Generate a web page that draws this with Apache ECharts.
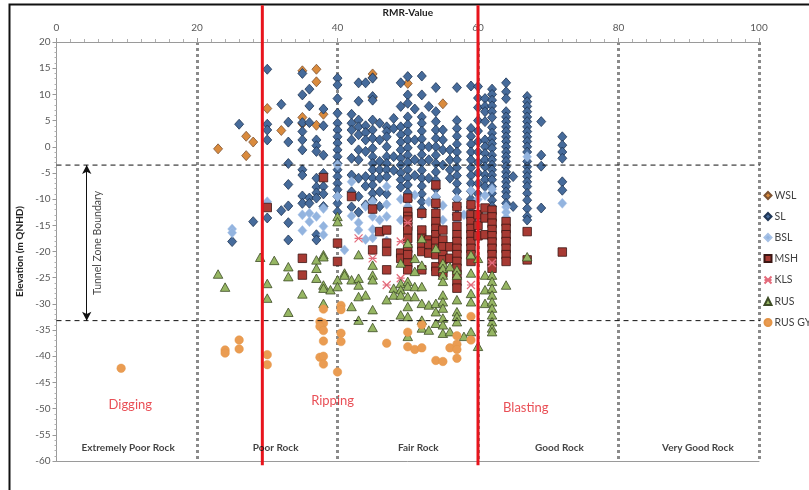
<!DOCTYPE html>
<html>
<head>
<meta charset="utf-8">
<script src="https://cdn.jsdelivr.net/npm/echarts@6/dist/echarts.min.js"></script>
<style>
html, body { margin: 0; padding: 0; background: #fff; }
#chart { width: 809px; height: 490px; }
</style>
</head>
<body>
<div id="chart"></div>
<script>
/*==================== data ====================*/
// points: [RMR, elevation]
var wsl = [[23,-0.4],[27,2.0],[28,0.9],[27,-1.7],[30,7.3],[32,3.1],[35,14.5],[37,14.8],[37,12.4],[35,5.6],[35,4.4],
    [37,4.1],[38,6.2],[45,13.9],[45,13.2],[45,9.4],[50,12.1],[55,8.2]];

// SL grouped by RMR column: [x, [elevations]]
var slCols = [
    [25, [-18.1]], [26, [4.3]], [28, [-14.3]],
    [30, [14.8, 4.3, 3.2, 1.3, -13.6]],
    [32, [8.1, -12.2]],
    [33, [4.7, 0.9, -3.2, -7.2, -11.3, -14.5, -17.8]],
    [35, [14.0, 9.9, 4.6, 2.9, 1.3, -0.6, -4.4, -5.4, -9.4, -10.8]],
    [36, [11.0, 7.8, 4.6, -9.8, -10.8]],
    [37, [1.3, 0.2, -0.9, -6.0, -7.7, -8.8, -9.8, -16.8, -17.8]],
    [38, [7.2, 4.0, -1.6, -5.1, -7.6, -9.0, -11.4]],
    [40, [13.1, 11.8, 9.2, 6.4, 4.5, 3.2, 1.9, 0.7, -0.6, -1.9, -3.2, -4.4, -5.7, -7.0, -8.2, -9.5, -10.8, -12.4]],
    [42, [6.2, 4.5, 3.2, 1.3, -2.2, -5.4, -8.6, -11.5]],
    [43, [12.2, 8.7, 5.1, 3.8, 2.3, -0.6, -2.5, -6.0, -9.5, -12.5]],
    [44, [12.2, 4.0, 2.7, 1.3, -0.9, -5.7, -7.5, -11.1]],
    [45, [13.1, 9.6, 8.9, 5.1, 3.2, 1.6, -0.3, -1.9, -3.2, -4.4, -6.0, -7.3, -8.9, -10.2, -11.4]],
    [46, [4.5, 1.3, -2.8, -4.4, -6.0, -8.6, -11.4]],
    [47, [3.8, 2.9, 1.9, 0.0, -1.9, -3.2, -4.4, -5.7, -9.0]],
    [48, [5.4, 3.5, -1.9, -4.5]],
    [49, [12.2, 7.7, 3.8, 2.3, 0.9, -0.6, -2.2, -3.5, -5.0, -6.3, -7.7]],
    [50, [13.4, 9.9, 8.3, 5.7, 4.2, 2.8, 1.3, -0.2, -1.6, -3.0, -4.4, -5.9, -7.3, -8.8, -10.2]],
    [51, [7.2, 1.3, -2.5, -5.5]],
    [52, [13.5, 9.9, 5.7, 4.5, 3.0, 1.5, 0.0, -1.5, -3.0, -4.5, -6.0, -7.5, -9.0, -10.5, -12.0]],
    [53, [7.7, 0.0, -2.5, -6.0]],
    [54, [11.3, 6.7, 4.8, 3.2, 1.6, 0.0, -1.6, -3.2, -4.8, -6.4, -8.0, -9.6, -11.2]],
    [55, [3.2, 1.3, -0.6, -3.5]],
    [56, [-0.6, -2.5, -4.4, -6.0]],
    [57, [11.3, 5.0, 3.5, 2.0, 0.5, -1.0, -2.5, -4.0, -5.5, -7.0, -8.5, -10.0, -11.5, -13.0]],
    [59, [11.6, 3.5, 2.0, 0.5, -1.0, -2.5, -4.0, -5.5, -7.0, -8.5, -10.0, -11.5]],
    [60, [11.5, 9.3, 7.5, 5.0, 3.0, 1.0, -1.0, -3.0, -5.0, -7.0, -9.0]],
    [61, [9.2, 7.7, 6.7, 4.8, 1.3, 0.0, -1.3, -2.5, -3.8, -5.4, -6.3, -7.6]],
    [62, [11.0, 10.0, 8.9, 7.8, 6.7, 5.6, 3.7, 2.6, 1.6, 0.6, -0.3, -1.6, -2.5, -3.5, -4.4, -5.4, -6.3, -7.6, -8.9, -10.2, -11.4]],
    [64, [12.2, 10.5, 9.2, 6.7, 5.7, 4.8, 3.8, 2.9, 1.9, 1.0, 0.0, -1.0, -1.9, -2.8, -3.8, -4.8, -5.7, -6.7, -7.6, -8.6, -9.5, -10.8]],
    [65, [-5.7, -11.4]],
    [67, [9.6, 8.6, 7.7, 6.7, 5.7, 4.8, 3.8, 2.9, 1.9, 1.0, 0.0, -1.0, -2.8, -3.8, -4.8, -5.7, -6.7, -7.6, -8.9, -10.2, -11.8, -13.3, -14.0]],
    [69, [4.8, -1.6, -3.7, -11.7]],
    [72, [1.9, 0.3, -1.0, -2.2, -6.7, -8.3]]
];

var bsl = [[25,-15.7],[25,-16.4],[30,-10.5],[35,-13.0],[35,-16.0],[36,-12.7],[36,-14.3],[37,-13.3],[38,-11.8],[38,-15.2],
    [38,-16.8],[40,-3.5],[40,-9.5],[41,-19.7],[42,-6.7],[42,-13.2],[43,-14.5],[43,-15.9],[44,-11.4],[44,-17.7],[45,-10.5],
    [45,-13.3],[45,-15.8],[45,-17.4],[46,-14.0],[47,-7.6],[47,-11.0],[47,-13.3],[47,-18.0],[49,-10.0],[49,-14.0],[50,-11.4],
    [50,-15.5],[51,-9.2],[52,-13.0],[52,-16.0],[53,-10.5],[54,-9.5],[55,-11.2],[55,-14.0],[57,-9.9],[57,-14.5],[58,-13.0],
    [59,-8.4],[59,-13.5],[60,-10.0],[60,-14.0],[61,-9.3],[62,-8.1],[62,-12.5],[64,-11.5],[64,-12.5],[64,-13.5],[67,-1.9],[72,-10.8]];

var mshCols = [
    [30, [-11.6]], [35, [-21.3, -24.5]], [38, [-5.9]], [40, [-18.4, -21.9]], [42, [-9.5]],
    [45, [-11.9, -19.7]], [46, [-16.2]], [47, [-15.9, -18.4, -20.0, -23.5]], [49, [-20.3, -21.3]],
    [50, [-9.8, -12.4, -13.3, -14.0, -15.2, -15.9, -17.5, -19.4, -20.6, -22.2, -23.5]],
    [52, [-12.7, -15.9, -17.5, -18.7, -20.0, -23.5]],
    [53, [-17.8, -18.6, -20.3]],
    [54, [-7.3, -10.8, -12.7, -14.3, -15.6, -16.8, -18.1, -19.4, -20.6, -22.9, -23.8]],
    [55, [-15.9, -17.8, -19.1, -20.6, -21.6, -24.1]],
    [56, [-19.1, -21.3]],
    [57, [-11.4, -13.3, -15.2, -16.8, -18.1, -19.4, -20.6, -21.9, -23.2, -24.4, -25.7, -27.0]],
    [59, [-11.1, -13.0, -14.3, -15.6, -16.8, -18.1, -19.4, -20.6, -21.9]],
    [60, [-13.0, -15.0, -17.0]],
    [61, [-11.7, -13.6, -16.8]],
    [62, [-12.1, -13.4, -14.6, -15.8, -17.0, -18.2, -19.4, -20.6, -21.9, -23.2]],
    [64, [-14.3, -15.6, -16.8, -18.1, -19.4, -20.6, -21.9]],
    [67, [-16.2, -21.6]], [72, [-20.1]]
];

var kls = [[43,-17.5],[45,-21.3],[47,-26.4],[49,-18.1],[49,-25.1],[50,-14.5],[59,-26.4],[62,-22.2]];

var rusCols = [
    [23, [-24.3]], [24, [-26.8]], [29, [-21.1]], [30, [-26.1, -28.9]], [31, [-21.7]],
    [33, [-22.9, -24.8, -31.6]], [35, [-28.1]], [37, [-21.6, -23.2, -25.1]],
    [38, [-20.6, -21.0, -26.4, -27.0, -29.9]], [39, [-27.3]], [40, [-13.3, -14.3, -25.4, -26.7]],
    [41, [-24.1, -24.5]], [42, [-25.4, -30.5]], [43, [-20.6, -25.1, -26.4, -28.6, -33.1]], [44, [-28.3]],
    [45, [-22.6, -24.5, -25.4, -31.1, -34.5]], [47, [-29.2]], [48, [-27.0, -28.3]],
    [49, [-22.2, -26.1, -27.3, -28.3, -32.1]],
    [50, [-18.4, -25.7, -26.6, -28.6, -30.5, -32.4, -36.2]],
    [51, [-21.3, -23.8, -26.7, -28.6]],
    [52, [-17.5, -22.6, -26.7, -29.9, -33.1, -34.6]],
    [53, [-30.2, -35.0]], [54, [-19.4, -29.9, -31.5, -33.7]],
    [55, [-22.2, -23.2, -24.5, -25.7, -28.3, -29.6, -30.8, -32.7, -34.0, -35.6]],
    [56, [-22.9, -35.3]], [57, [-23.5, -24.5, -29.2, -31.5, -32.4, -33.4]], [58, [-36.2]],
    [59, [-20.6, -24.1, -28.0, -29.6, -35.3]], [60, [-21.3, -38.1]], [61, [-24.5, -27.3, -29.9]],
    [62, [-24.5, -25.7, -27.0, -28.3, -29.6, -30.8, -32.1, -33.4, -34.6, -35.3]],
    [64, [-26.4]], [67, [-21.0]]
];

var rusGyp = [[9.2,-42.3],[24,-38.8],[24,-39.4],[26,-36.9],[26,-38.6],[30,-39.7],[30,-41.6],[37.5,-33.4],[38,-33.7],
    [37.5,-34.3],[38,-35.1],[38,-37.1],[37.5,-40.2],[38,-40.0],[38,-41.5],[40.5,-30.3],[40.5,-31.1],[40.5,-35.6],
    [40.5,-37.2],[40,-43.0],[38,-31.0],[47,-37.5],[50,-35.4],[50,-38.2],[51,-38.7],[52,-38.4],[52,-34.0],[54,-40.8],
    [55,-41.0],[56,-38.4],[57,-36.1],[57,-37.7],[57,-38.7],[57,-40.4],[59,-32.4],[59,-36.9]];

// annotations
var methodNames = ['Digging', 'Ripping', 'Blasting'];
var methodX = [10.5, 39.3, 66.8];
var methodY = [-49.2, -48.6, -49.8];
var rockNames = ['Extremely Poor Rock', 'Poor Rock', 'Fair Rock', 'Good Rock', 'Very Good Rock'];
var rockX = [10.2, 31.2, 51.5, 71.6, 91.3];
var rockY = -57.5;
var methodLimits = [29.3, 60];   // red lines
var zoneTop = -3.5, zoneBottom = -33.2;
var arrowX = 4.3;

/*==================== helpers ====================*/
function flat(cols) {
    var out = [];
    cols.forEach(function (c) {
        c[1].forEach(function (y) { out.push([c[0], y]); });
    });
    return out;
}
var FONT = 'Lato, "Liberation Sans", sans-serif';

function pointSeries(name, data, symbol, size, fill, border, bw) {
    return {
        name: name, type: 'scatter', data: data, symbol: symbol, symbolSize: size,
        itemStyle: { color: fill, borderColor: border, borderWidth: bw, opacity: 1 },
        emphasis: { disabled: true }, z: 3
    };
}

var series = [
    pointSeries('WSL', wsl, 'diamond', [9, 10], '#da8b3d', '#7d5332', 0.8),
    pointSeries('SL', flat(slCols), 'diamond', [9, 10], '#466b9b', '#1f3655', 0.8),
    pointSeries('BSL', bsl, 'diamond', [9, 10], '#93b4df', '#a6c1e6', 0.5),
    pointSeries('MSH', flat(mshCols), 'rect', 8.5, '#a83a33', '#3b1714', 0.8),
    pointSeries('KLS', kls, 'path://M0,0L10,10M10,0L0,10M0,5L10,5', 8, 'none', '#e46b7b', 1.2),
    pointSeries('RUS', flat(rusCols), 'triangle', [9.5, 8.5], '#96b663', '#3d4c25', 0.8),
    pointSeries('RUS GYP', rusGyp, 'circle', 8.5, '#ea9c52', '#e39447', 0.5)
];

// zone boundary dashed lines (run past the plot into the legend area)
[zoneTop, zoneBottom].forEach(function (y) {
    series.push({
        type: 'line', data: [[0, y], [107, y]], symbol: 'none', clip: false, silent: true, z: 4,
        lineStyle: { color: '#111', width: 1, type: [5, 4] }
    });
});
// excavation method limits (red), a bit taller than the plot
methodLimits.forEach(function (x) {
    series.push({
        type: 'line', data: [[x, 27], [x, -60.8]], symbol: 'none', clip: false, silent: true, z: 5,
        lineStyle: { color: '#e8141c', width: 3 }
    });
});
// tunnel zone arrow
series.push({
    type: 'line', data: [], silent: true,
    markLine: {
        silent: true, symbol: ['arrow', 'arrow'], symbolSize: [7, 9], label: { show: false },
        lineStyle: { color: '#111', width: 1, type: 'solid' },
        data: [[{ coord: [arrowX, zoneTop] }, { coord: [arrowX, zoneBottom] }]]
    }
});
// texts
series.push({
    type: 'scatter', symbolSize: 0, silent: true, z: 6,
    data: methodNames.map(function (n, i) { return { name: n, value: [methodX[i], methodY[i]] }; }),
    label: { show: true, position: 'inside', formatter: '{b}', color: '#e4232c', fontSize: 13, fontFamily: FONT }
});
series.push({
    type: 'scatter', symbolSize: 0, silent: true, z: 6,
    data: rockNames.map(function (n, i) { return { name: n, value: [rockX[i], rockY] }; }),
    label: { show: true, position: 'inside', formatter: '{b}', color: '#111', fontSize: 10, fontWeight: 'bold', fontFamily: FONT }
});
series.push({
    type: 'scatter', symbolSize: 0, silent: true, z: 6,
    data: [{ name: 'Tunnel Zone Boundary', value: [arrowX + 1.6, (zoneTop + zoneBottom) / 2] }],
    label: { show: true, position: 'inside', rotate: 90, formatter: '{b}', color: '#111', fontSize: 10.5, fontFamily: FONT }
});

/*==================== chart ====================*/
var myChart = echarts.init(document.getElementById('chart'), null, { renderer: 'canvas' });
var option = {
    backgroundColor: '#ffffff',
    animation: false,
    textStyle: { fontFamily: FONT },
    grid: { left: 56.5, right: 50, top: 42, bottom: 29, containLabel: false },
    legend: {
        data: ['WSL', 'SL', 'BSL', 'MSH', 'KLS', 'RUS', 'RUS GYP'],
        orient: 'vertical', left: 762, top: 190, padding: 0,
        itemWidth: 7, itemHeight: 7, itemGap: 10, align: 'left',
        textStyle: { fontSize: 10.5, color: '#404040', fontFamily: FONT, padding: [0, 0, 0, -2] }
    },
    xAxis: [{
        type: 'value', position: 'top', min: 0, max: 100, interval: 20,
        name: 'RMR-Value', nameLocation: 'middle', nameGap: 24,
        nameTextStyle: { fontSize: 10, fontWeight: 'bold', color: '#222', fontFamily: FONT },
        axisLine: { show: true, onZero: false, lineStyle: { color: '#9a9a9a' } },
        axisTick: { show: true, length: 4, lineStyle: { color: '#9a9a9a' } },
        minorTick: { show: true, splitNumber: 10, length: 3, lineStyle: { color: '#b0b0b0' } },
        axisLabel: { color: '#595959', fontSize: 10, margin: 9 },
        splitLine: { show: true, showMinLine: false, lineStyle: { color: '#8a8a8a', width: 3, type: [3, 3] } }
    }, {
        type: 'value', position: 'bottom', min: 0, max: 100,
        axisLine: { show: true, onZero: false, lineStyle: { color: '#9a9a9a' } },
        axisTick: { show: false }, axisLabel: { show: false }, splitLine: { show: false }
    }],
    yAxis: {
        type: 'value', min: -60, max: 20, interval: 5,
        name: 'Elevation (m QNHD)', nameLocation: 'middle', nameGap: 31,
        nameTextStyle: { fontSize: 10, fontWeight: 'bold', color: '#222', fontFamily: FONT },
        axisLine: { show: true, onZero: false, lineStyle: { color: '#9a9a9a' } },
        axisTick: { show: true, length: 4, lineStyle: { color: '#9a9a9a' } },
        minorTick: { show: true, splitNumber: 5, length: 2, lineStyle: { color: '#b0b0b0' } },
        axisLabel: { color: '#595959', fontSize: 10, margin: 6 },
        splitLine: { show: false }
    },
    graphic: [{
        type: 'rect', left: 7, top: 2, silent: true,
        shape: { width: 900, height: 600 },
        style: { fill: 'none', stroke: '#111', lineWidth: 2 }
    }],
    series: series
};
myChart.setOption(option);
</script>
</body>
</html>
